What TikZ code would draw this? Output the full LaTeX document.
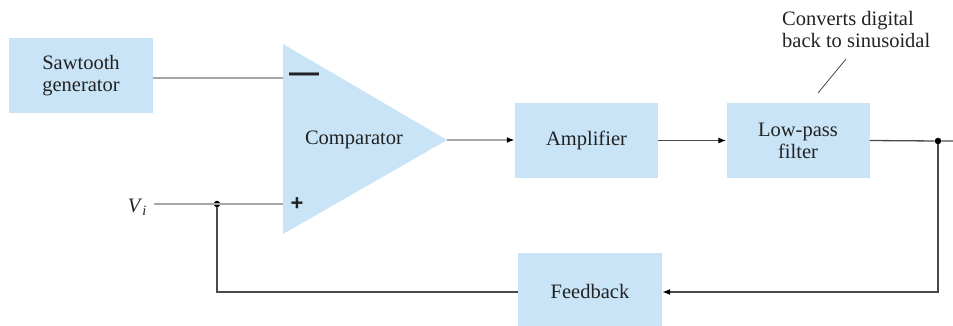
\documentclass[tikz,border=0pt]{standalone}
\usepackage{fontspec}
\setmainfont{Liberation Serif}
\newfontfamily\signfont{Liberation Sans}
\usetikzlibrary{arrows.meta}
\definecolor{boxblue}{HTML}{C9E4F7}
\definecolor{inkgray}{HTML}{222222}
\definecolor{wiregray}{HTML}{A8A8A8}
\definecolor{wiredark}{HTML}{4A4A4A}
\begin{document}
\begin{tikzpicture}[x=1pt,y=-1pt,
  every node/.style={font=\rmfamily\fontsize{20.5}{22}\selectfont, text=inkgray},
  blk/.style={draw=none, fill=boxblue, minimum width=143pt, minimum height=75pt, inner sep=0pt, align=center},
  lightwire/.style={draw=wiregray, line width=2pt},
  darkwire/.style={draw=wiredark, line width=1.3pt},
  arr/.style={-{Latex[length=8pt,width=6pt,color=black]}},
  dotstyle/.style={circle, fill=black, inner sep=0pt, minimum size=6.5pt}]
\useasboundingbox (0,0) rectangle (953,325);
% blocks
\node[blk, minimum width=144pt] (saw) at (81,75.5) {Sawtooth\\generator};
\path[fill=boxblue] (283,44) -- (447,140) -- (283,234) -- cycle;
\coordinate (cmpminus) at (283,78);
\coordinate (cmpplus) at (283,204);
\coordinate (cmpout) at (447,140);
\node (cmp) at (354,140) {Comparator};
\node[font=\signfont\bfseries\fontsize{30}{30}\selectfont, inner sep=0pt] (minus) at (304,78) {—};
\node[font=\signfont\bfseries\fontsize{22}{22}\selectfont, inner sep=0pt] (plus) at (297,204) {+};
\node[blk] (amp) at (586.5,140.5) {Amplifier};
\node[blk] (lpf) at (798,140.5) {Low-pass\\filter};
\node[blk, minimum width=144pt, minimum height=76pt] (fb) at (590,291) {Feedback};
% labels
\node[anchor=east, inner sep=0pt] (vi) at (147,207) {\textit{V}\textsubscript{\textit{i}}};
\coordinate (vistart) at (154,204);
\node[align=left, anchor=north west, inner sep=0pt] (note) at (782,11) {Converts digital\\back to sinusoidal};
\coordinate (noteA) at (846,59);
\coordinate (noteB) at (818,93);
% junctions
\node[dotstyle] (jin) at (217,204) {};
\node[dotstyle] (jout) at (938,141) {};
\coordinate (outend) at (953,141);
\coordinate (fbcorner) at (938,292);
\coordinate (fbleft) at (217,292);
% wires
\draw[lightwire] (saw.east |- cmpminus) -- (cmpminus);
\draw[lightwire] (vistart) -- (cmpplus);
\draw[lightwire, arr] (cmpout) -- (amp.west |- cmpout);
\draw[darkwire, arr] (amp.east) -- (lpf.west);
\draw[darkwire] (lpf.east) -- (jout) -- (outend);
\draw[darkwire, arr] (jout) -- (fbcorner) -- (fb.east |- fbcorner);
\draw[darkwire] (fb.west |- fbcorner) -- (fbleft) -- (jin);
\draw[draw=wiredark, line width=0.8pt] (noteA) -- (noteB);
\end{tikzpicture}
\end{document}
